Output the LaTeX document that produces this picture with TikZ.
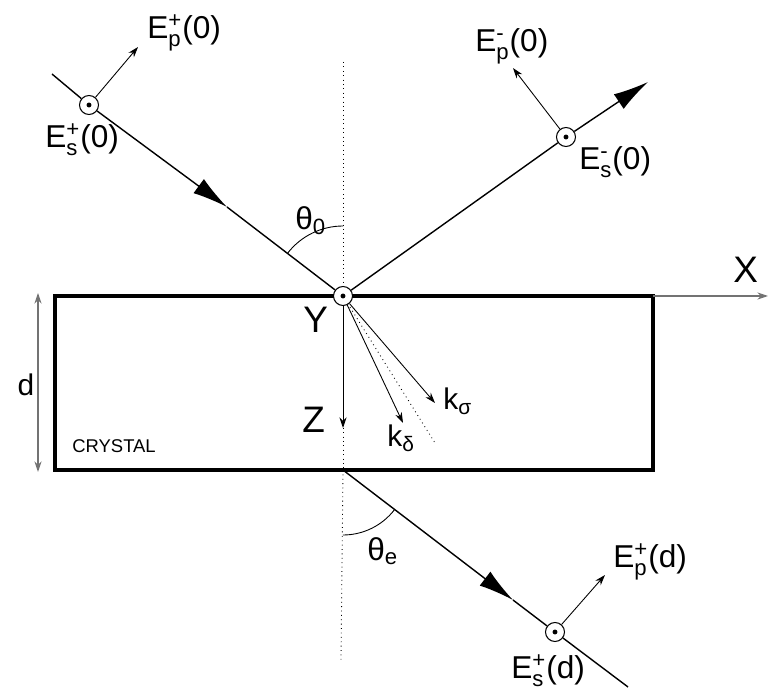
\documentclass[tikz,border=0pt]{standalone}
\usepackage{fontspec}
\setmainfont{Liberation Sans}
\usepackage{amsmath}
\usetikzlibrary{arrows.meta}
\tikzset{
  ray/.style={line width=0.8pt},
  raytip/.style={-{Latex[length=20pt,width=10pt]}, line width=0.8pt},
  fieldarrow/.style={-{Stealth[length=6pt,width=4pt]}, line width=0.5pt},
  normalline/.style={dotted, line width=0.5pt},
  axisarrow/.style={-{Stealth[length=6pt,width=4pt]}, line width=0.6pt, black!55},
  spot/.style={circle, draw, line width=0.6pt, fill=white, minimum size=0.38cm, inner sep=0pt},
  lab/.style={font=\fontsize{18}{20}\selectfont, inner sep=0pt, anchor=base west},
  axlab/.style={font=\fontsize{21}{24}\selectfont, inner sep=0pt, anchor=base west}
}
\newcommand{\Efield}[3]{E$^{\text{#2}}_{\text{#1}}$(#3)}
\begin{document}
\begin{tikzpicture}[x=0.02cm, y=0.02cm]
\useasboundingbox (0,0) rectangle (769,691);
% crystal
\coordinate (ctl) at (55,395);
\coordinate (cbr) at (653,221);
\coordinate (bot) at (343,221);
\draw[line width=2.3pt] (ctl) rectangle (cbr);
\node[inner sep=0pt, anchor=base west, font=\fontsize{10.5}{12}\selectfont] (crys) at (72,238) {CRYSTAL};
% thickness
\coordinate (dtop) at (38,398);
\coordinate (dbot) at (38,219);
\draw[axisarrow, {Stealth[length=6pt,width=4pt]}-{Stealth[length=6pt,width=4pt]}] (dtop) -- (dbot);
\node[font=\fontsize{17}{20}\selectfont, inner sep=0pt] (dlab) at (26,306) {d};
% normal
\coordinate (ntop) at (343,629);
\coordinate (nbot) at (341,31);
\coordinate (nin) at (435,248);
\draw[normalline] (ntop) -- (343,395);
\draw[normalline] (343,395) -- (bot);
\draw[normalline] (bot) -- (nbot);
\draw[normalline] (343,395) -- (nin);
% axes
\coordinate (xend) at (768,395);
\coordinate (zt) at (343,263);
\draw[axisarrow] (cbr |- ctl) -- (xend);
\node[axlab] (xlab) at (733,408) {X};
\node[axlab] (ylab) at (303,358) {Y};
\node[axlab] (zlab) at (302,258) {Z};
% incident beam
\coordinate (src) at (52,617);
\coordinate (inc) at (227,484);
\node[spot] (c1) at (89,586) {};
\node[spot] (o) at (343,395) {};
\coordinate (ep1) at (138,644);
\draw[ray] (src) -- (c1);
\draw[raytip] (c1) -- (inc);
\draw[ray] (inc) -- (o);
\draw[fieldarrow] (c1) -- (ep1);
\node[lab] (ep1lab) at (147,652) {\Efield{p}{+}{0}};
\node[lab] (es1lab) at (45,543) {\Efield{s}{+}{0}};
\draw[line width=0.5pt] (o.center) ++(90:70) arc[start angle=90, end angle=142.7, radius=70];
\node[lab] (th0) at (295,461) {θ$_{\text{0}}$};
% reflected beam
\node[spot] (c2) at (566,554) {};
\coordinate (refl) at (648,609);
\coordinate (ep2) at (513,623);
\draw[ray] (o) -- (c2);
\draw[raytip] (c2) -- (refl);
\draw[fieldarrow] (c2) -- (ep2);
\node[lab] (ep2lab) at (475,639) {\Efield{p}{-}{0}};
\node[lab] (es2lab) at (579,521) {\Efield{s}{-}{0}};
% wave vectors inside
\coordinate (ksig) at (435,288);
\coordinate (kdel) at (403,268);
\draw[fieldarrow] (o) -- (zt);
\draw[fieldarrow] (o) -- (ksig);
\draw[fieldarrow] (o) -- (kdel);
\node[lab, font=\fontsize{17}{20}\selectfont] (kslab) at (443,281) {k$_{\text{σ}}$};
\node[lab, font=\fontsize{17}{20}\selectfont] (kdlab) at (387,244) {k$_{\text{δ}}$};
% transmitted beam
\node[spot] (c3) at (555,59) {};
\coordinate (tra) at (513,91);
\coordinate (tend) at (628,4);
\coordinate (ep3) at (605,116);
\draw[raytip] (bot) -- (tra);
\draw[ray] (tra) -- (c3);
\draw[ray] (c3) -- (tend);
\draw[fieldarrow] (c3) -- (ep3);
\node[lab] (ep3lab) at (613,123) {\Efield{p}{+}{d}};
\node[lab] (es3lab) at (511,12) {\Efield{s}{+}{d}};
\draw[line width=0.5pt] (bot) ++(270:65) arc[start angle=270, end angle=322.7, radius=65];
\node[lab] (thee) at (367,131) {θ$_{\text{e}}$};
% dots in the spots
\foreach \s in {c1,c2,c3,o}
  \fill (\s.center) circle (1.4pt);
\end{tikzpicture}
\end{document}
